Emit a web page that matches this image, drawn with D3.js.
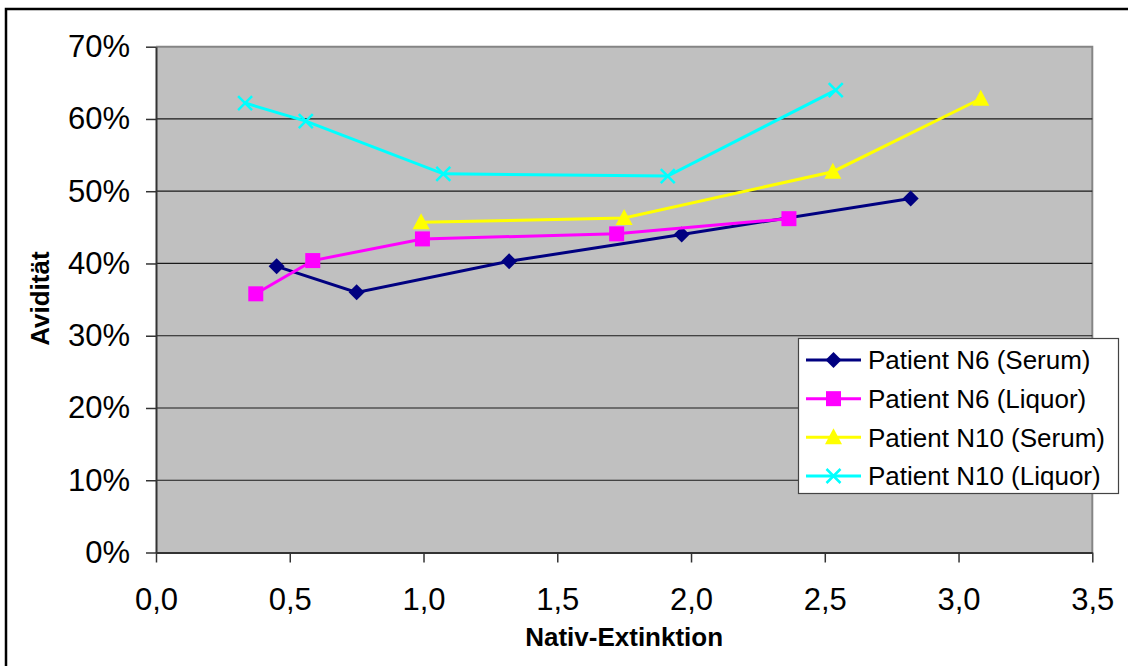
<!DOCTYPE html>
<meta charset="utf-8">
<script src="https://d3js.org/d3.v7.min.js"></script>
<style>
  body { margin: 0; background: #fff; }
  text { font-family: "Liberation Sans", Arial, sans-serif; fill: #000; }
</style>
<div id="chart"></div>
<script>

// data
const seriesNames = ["Patient N6 (Serum)", "Patient N6 (Liquor)", "Patient N10 (Serum)", "Patient N10 (Liquor)"];

const n6SerumX  = [0.451, 0.750, 1.320, 1.965, 2.821];
const n6SerumY  = [0.396, 0.360, 0.403, 0.440, 0.490];

const n6LiquorX = [0.373, 0.586, 0.996, 1.722, 2.366];
const n6LiquorY = [0.358, 0.404, 0.434, 0.441, 0.462];

const n10SerumX = [0.991, 1.750, 2.530, 3.083];
const n10SerumY = [0.457, 0.463, 0.527, 0.628];

const n10LiquorX = [0.333, 0.560, 1.074, 1.913, 2.541];
const n10LiquorY = [0.622, 0.597, 0.524, 0.521, 0.640];

const xTicks = [0, 0.5, 1, 1.5, 2, 2.5, 3, 3.5];
const yTicks = [0, 0.1, 0.2, 0.3, 0.4, 0.5, 0.6, 0.7];

const series = [
  {name: seriesNames[0], xs: n6SerumX,  ys: n6SerumY,  color: "#000080", marker: "diamond"},
  {name: seriesNames[1], xs: n6LiquorX, ys: n6LiquorY, color: "#FF00FF", marker: "square"},
  {name: seriesNames[2], xs: n10SerumX, ys: n10SerumY, color: "#FFFF00", marker: "triangle"},
  {name: seriesNames[3], xs: n10LiquorX, ys: n10LiquorY, color: "#00FFFF", marker: "cross"}
];

const W = 1128, H = 666;
const plot = {left: 156, top: 46.7, right: 1092.3, bottom: 552.5};

const svg = d3.select("#chart").append("svg")
  .attr("width", W)
  .attr("height", H);

// outer frame
svg.append("rect")
  .attr("x", 6).attr("y", 9)
  .attr("width", W + 20).attr("height", H + 20)
  .attr("fill", "none")
  .attr("stroke", "#000")
  .attr("stroke-width", 2.5);

const x = d3.scaleLinear().domain([0, 3.5]).range([plot.left, plot.right]);
const y = d3.scaleLinear().domain([0, 0.7]).range([plot.bottom, plot.top]);

// plot area
svg.append("rect")
  .attr("x", plot.left).attr("y", plot.top)
  .attr("width", plot.right - plot.left)
  .attr("height", plot.bottom - plot.top)
  .attr("fill", "#C0C0C0");

// top and right border of plot area
svg.append("path")
  .attr("d", `M${plot.left},${plot.top}H${plot.right}V${plot.bottom}`)
  .attr("fill", "none")
  .attr("stroke", "#858585")
  .attr("stroke-width", 2);

// gridlines
svg.append("g")
  .selectAll("line")
  .data(yTicks.filter(d => d > 0 && d < 0.7))
  .join("line")
    .attr("x1", plot.left).attr("x2", plot.right)
    .attr("y1", d => y(d)).attr("y2", d => y(d))
    .attr("stroke", "#1a1a1a")
    .attr("stroke-width", 1.2);

const fmtX = d => d3.format(".1f")(d).replace(".", ",");

// axes
const xAxis = svg.append("g")
  .attr("transform", `translate(0,${plot.bottom})`)
  .call(d3.axisBottom(x).tickValues(xTicks).tickFormat(fmtX).tickSize(10).tickPadding(25).tickSizeOuter(0));
xAxis.selectAll("text")
  .style("font-size", "31px")
  .attr("dy", "0.71em");

const yAxis = svg.append("g")
  .attr("transform", `translate(${plot.left},0)`)
  .call(d3.axisLeft(y).tickValues(yTicks).tickFormat(d3.format(".0%")).tickSize(10).tickPadding(16).tickSizeOuter(0));
yAxis.selectAll("text")
  .style("font-size", "31px");

svg.selectAll(".domain").attr("stroke", "#333").attr("stroke-width", 2);
svg.selectAll(".tick line").attr("stroke", "#333").attr("stroke-width", 1.5);

// axis titles
svg.append("text")
  .attr("x", (plot.left + plot.right) / 2)
  .attr("y", 646)
  .attr("text-anchor", "middle")
  .style("font-size", "26px")
  .style("font-weight", "bold")
  .text("Nativ-Extinktion");

svg.append("text")
  .attr("transform", `translate(49,${(plot.top + plot.bottom) / 2 - 1}) rotate(-90)`)
  .attr("text-anchor", "middle")
  .style("font-size", "26px")
  .style("font-weight", "bold")
  .text("Avidität");

// marker drawing
function drawMarker(g, type, color) {
  if (type === "diamond") {
    g.append("path").attr("d", "M0,-8L8,0L0,8L-8,0Z").attr("fill", color);
  } else if (type === "square") {
    g.append("rect").attr("x", -7.5).attr("y", -7.5).attr("width", 15).attr("height", 15).attr("fill", color);
  } else if (type === "triangle") {
    g.append("path").attr("d", "M0,-9L8.5,7L-8.5,7Z").attr("fill", color);
  } else if (type === "cross") {
    g.append("path").attr("d", "M-7,-7L7,7M-7,7L7,-7")
      .attr("stroke", color).attr("stroke-width", 2.5).attr("fill", "none");
  }
}

const line = d3.line().x(d => x(d[0])).y(d => y(d[1]));

series.forEach(s => {
  const pts = s.xs.map((v, i) => [v, s.ys[i]]);
  const g = svg.append("g");
  g.append("path")
    .datum(pts)
    .attr("d", line)
    .attr("fill", "none")
    .attr("stroke", s.color)
    .attr("stroke-width", 3);
  g.selectAll("g.mk")
    .data(pts)
    .join("g")
      .attr("class", "mk")
      .attr("transform", d => `translate(${x(d[0])},${y(d[1])})`)
      .each(function() { drawMarker(d3.select(this), s.marker, s.color); });
});

// legend
const legend = svg.append("g");
legend.append("rect")
  .attr("x", 798.5).attr("y", 338.5)
  .attr("width", 320).attr("height", 155)
  .attr("fill", "#fff")
  .attr("stroke", "#444")
  .attr("stroke-width", 1.2);

const rowY = d3.scaleLinear().domain([0, 3]).range([360, 476]);
series.forEach((s, i) => {
  const row = legend.append("g").attr("transform", `translate(0,${rowY(i)})`);
  row.append("line")
    .attr("x1", 806).attr("x2", 861)
    .attr("stroke", s.color).attr("stroke-width", 3);
  drawMarker(row.append("g").attr("transform", "translate(833.5,0)"), s.marker, s.color);
  row.append("text")
    .attr("x", 868).attr("y", 0)
    .attr("dy", "0.36em")
    .style("font-size", "26px")
    .text(s.name);
});
</script>
